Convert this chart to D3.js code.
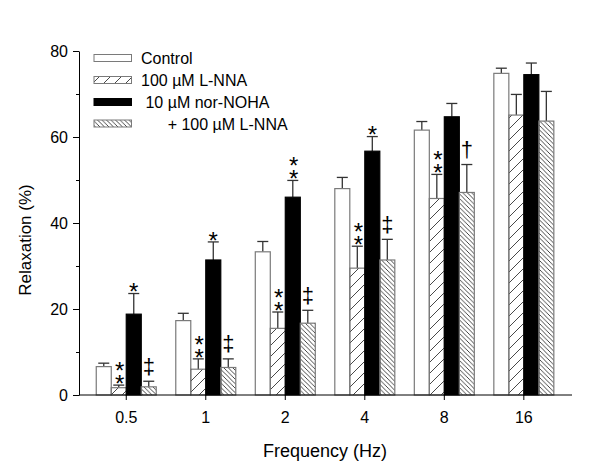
<!DOCTYPE html>
<html>
<head>
<meta charset="utf-8">
<script src="https://cdn.jsdelivr.net/npm/d3@7"></script>
<style>
  html, body { margin: 0; padding: 0; background: #fff; }
  svg { display: block; font-family: "Liberation Sans", Arial, sans-serif; }
</style>
</head>
<body>
<svg id="chart" width="600" height="469"></svg>
<script>
// ---- data ----
const categories = ["0.5", "1", "2", "4", "8", "16"];
const seriesNames = ["Control", "100 \u00B5M L-NNA", " 10 \u00B5M nor-NOHA", "      + 100 \u00B5M L-NNA"];
const controlMean  = [6.6, 17.3, 33.3, 48.0, 61.6, 74.8];
const controlErr   = [0.8, 1.7, 2.4, 2.6, 2.0, 1.2];
const lnnaMean     = [1.7, 6.0, 15.5, 29.5, 45.7, 65.1];
const lnnaErr      = [0.6, 2.4, 3.8, 5.1, 5.6, 4.8];
const norMean      = [18.8, 31.4, 46.0, 56.7, 64.7, 74.5];
const norErr       = [4.8, 4.2, 3.9, 3.4, 3.1, 2.7];
const comboMean    = [1.9, 6.4, 16.7, 31.4, 47.1, 63.7];
const comboErr     = [1.3, 2.0, 3.0, 4.8, 6.5, 6.9];
const lnnaMarks    = ["**", "**", "**", "**", "**", ""];
const norMarks     = ["*", "*", "**", "*", "", ""];
const comboMarks   = ["\u2021", "\u2021", "\u2021", "\u2021", "\u2020", ""];
const yTicks = [0, 20, 40, 60, 80];
const yMinorTicks = [10, 30, 50, 70];

const seriesMeans = [controlMean, lnnaMean, norMean, comboMean];
const seriesErrs = [controlErr, lnnaErr, norErr, comboErr];
const seriesMarks = [[], lnnaMarks, norMarks, comboMarks];

(function () {
// ---- setup ----
const svg = d3.select("#chart");
const pLeft = 79, pRight = 572, pTop = 51, pBottom = 395;

const x = d3.scalePoint().domain(categories).range([pLeft, pRight]).padding(0.6).align(0.49);
const inner = d3.scaleBand().domain(d3.range(4)).range([-29.5, 30.5]);
const y = d3.scaleLinear().domain([0, 80]).range([pBottom, pTop]);

// patterns
const defs = svg.append("defs");
const p1 = defs.append("pattern").attr("id", "fwd").attr("patternUnits", "userSpaceOnUse")
  .attr("width", 11).attr("height", 11);
p1.append("path").attr("d", "M0,11 L11,0 M-2,2 L2,-2 M9,13 L13,9")
  .attr("stroke", "#333").attr("stroke-width", 0.9);
const p2 = defs.append("pattern").attr("id", "back").attr("patternUnits", "userSpaceOnUse")
  .attr("width", 4.5).attr("height", 4.5);
p2.append("path").attr("d", "M0,0 L4.5,4.5 M-1,3.5 L1,5.5 M3.5,-1 L5.5,1")
  .attr("stroke", "#333").attr("stroke-width", 0.9);

const fills = ["#fff", "url(#fwd)", "#000", "url(#back)"];
const strokes = ["#7a7a7a", "#7a7a7a", "#000", "#7a7a7a"];

// ---- bars ----
const g = svg.append("g");
seriesMeans.forEach((means, s) => {
  const errs = seriesErrs[s];
  categories.forEach((c, i) => {
    const x0 = x(c) + inner(s);
    const w = inner.bandwidth();
    const v = means[i], e = errs[i];
    const cx = x0 + w / 2;
    g.append("line").attr("x1", cx).attr("x2", cx).attr("y1", y(v)).attr("y2", y(v + e))
      .attr("stroke", "#333").attr("stroke-width", 1.3);
    g.append("line").attr("x1", cx - 5.5).attr("x2", cx + 5.5).attr("y1", y(v + e)).attr("y2", y(v + e))
      .attr("stroke", "#333").attr("stroke-width", 1.3);
    g.append("rect").attr("x", x0).attr("y", y(v)).attr("width", w).attr("height", y(0) - y(v))
      .attr("fill", fills[s]).attr("stroke", strokes[s]).attr("stroke-width", 1.2);
    const m = (seriesMarks[s] || [])[i];
    if (m) {
      const et = y(v + e);
      if (m === "**") {
        // two stacked asterisks as one vertical text
        g.append("text").attr("x", cx + 1).attr("y", et - 28)
          .attr("font-size", 24).attr("fill", "#000")
          .style("writing-mode", "vertical-rl").style("text-orientation", "upright")
          .style("letter-spacing", "-14px")
          .text(m);
      } else if (m === "*") {
        g.append("text").attr("x", cx).attr("y", et - 6.8 + 13.6)
          .attr("text-anchor", "middle").attr("font-size", 24).attr("fill", "#000").text(m);
      } else {
        g.append("text").attr("x", cx).attr("y", et - 7.5)
          .attr("text-anchor", "middle").attr("font-size", 22).attr("fill", "#000").text(m);
      }
    }
  });
});

// ---- axes ----
const xAxis = d3.axisBottom(x).tickSize(5).tickSizeOuter(0);
const xg = svg.append("g").attr("transform", `translate(0,${pBottom})`).call(xAxis);
xg.select(".domain").remove();
xg.append("line").attr("x1", pLeft).attr("x2", pRight).attr("y1", 0).attr("y2", 0).attr("stroke", "#000");
xg.selectAll(".tick line").attr("stroke", "#000");
xg.selectAll(".tick text").attr("font-size", 16).attr("dy", "0").attr("y", 28)
  .attr("font-family", "Liberation Sans, Arial, sans-serif").attr("fill", "#000");

const yAxis = d3.axisLeft(y).tickValues(yTicks).tickSize(6).tickSizeOuter(0).tickPadding(5);
const yg = svg.append("g").attr("transform", `translate(${pLeft},0)`).call(yAxis);
yg.select(".domain").attr("stroke", "#000");
yg.selectAll(".tick text").attr("font-size", 16)
  .attr("font-family", "Liberation Sans, Arial, sans-serif").attr("fill", "#000");
const yMinor = d3.axisLeft(y).tickValues(yMinorTicks).tickSize(3).tickFormat("").tickSizeOuter(0);
const ymg = svg.append("g").attr("transform", `translate(${pLeft},0)`).call(yMinor);
ymg.select(".domain").remove();

// titles
svg.append("text").attr("x", 325).attr("y", 457).attr("text-anchor", "middle")
  .attr("font-size", 18).attr("fill", "#000").text("Frequency (Hz)");
svg.append("text").attr("transform", "translate(31,240) rotate(-90)").attr("text-anchor", "middle")
  .attr("font-size", 17).attr("fill", "#000").text("Relaxation (%)");

// ---- legend ----
const leg = svg.append("g");
const legY = [58, 80, 102, 123.5];
seriesNames.forEach((name, s) => {
  leg.append("rect").attr("x", 94).attr("y", legY[s] - 3.5).attr("width", 37.5).attr("height", 7)
    .attr("fill", fills[s]).attr("stroke", strokes[s]).attr("stroke-width", 1);
  leg.append("text").attr("x", 141).attr("y", legY[s] + 6).attr("font-size", 16)
    .attr("fill", "#000").attr("xml:space", "preserve").style("white-space", "pre").text(name);
});
})();
</script>
</body>
</html>
